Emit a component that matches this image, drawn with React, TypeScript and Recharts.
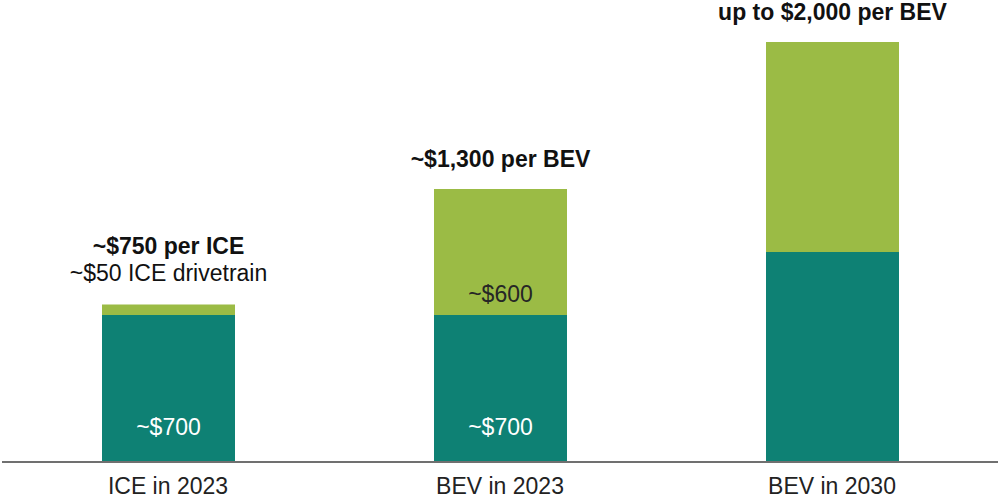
import { BarChart, Bar, XAxis, YAxis, LabelList } from 'recharts';

const categories = ['ICE in 2023', 'BEV in 2023', 'BEV in 2030'];
const baseValues = [700, 700, 1000];
const addedValues = [50, 600, 1000];
const baseLabels = ['~$700', '~$700', ''];
const addedLabels = ['', '~$600', ''];
const totalLabels = ['~$750 per ICE', '~$1,300 per BEV', 'up to $2,000 per BEV'];
const noteLabels = ['~$50 ICE drivetrain', '', ''];

const data = categories.map((name, i) => ({
  name,
  base: baseValues[i],
  added: addedValues[i],
}));

const FONT = '"Liberation Sans", Arial, sans-serif';

const BaseLabel = (props: any) => {
  const { x, y, width, height, index } = props;
  const text = baseLabels[index];
  if (!text) return null;
  return (
    <text x={x + width / 2} y={y + height - 35} textAnchor="middle" dominantBaseline="central"
      fill="#ffffff" fontSize={23} fontFamily={FONT}>
      {text}
    </text>
  );
};

const AddedLabel = (props: any) => {
  const { x, y, width, height, index } = props;
  const text = addedLabels[index];
  if (!text) return null;
  return (
    <text x={x + width / 2} y={y + height - 21} textAnchor="middle" dominantBaseline="central"
      fill="#262626" fontSize={23} fontFamily={FONT}>
      {text}
    </text>
  );
};

const TotalLabel = (props: any) => {
  const { x, y, width, index } = props;
  const cx = x + width / 2;
  const note = noteLabels[index];
  return (
    <g>
      <text x={cx} y={note ? y - 59 : y - 30} textAnchor="middle" dominantBaseline="central"
        fill="#111111" fontSize={23} fontWeight="bold" fontFamily={FONT}>
        {totalLabels[index]}
      </text>
      {note && (
        <text x={cx} y={y - 32} textAnchor="middle" dominantBaseline="central"
          fill="#111111" fontSize={23} fontFamily={FONT}>
          {note}
        </text>
      )}
    </g>
  );
};

export default function App() {
  return (
    <div style={{ position: 'absolute', left: 0, top: 0, background: '#fff' }}>
      <BarChart width={1000} height={503} data={data}
        margin={{ top: 42, right: 2, bottom: 0, left: 2 }}>
        <XAxis dataKey="name" height={41} tickLine={false} tickSize={0} tickMargin={16}
          axisLine={{ stroke: '#707070', strokeWidth: 2 }}
          tick={{ fill: '#222222', fontSize: 23, fontFamily: FONT }} />
        <YAxis hide domain={[0, 2000]} />
        <Bar dataKey="base" stackId="a" fill="#0e8174" barSize={133} isAnimationActive={false}>
          <LabelList dataKey="base" content={BaseLabel} />
        </Bar>
        <Bar dataKey="added" stackId="a" fill="#9bbb45" barSize={133} isAnimationActive={false}>
          <LabelList dataKey="added" content={AddedLabel} />
          <LabelList dataKey="added" content={TotalLabel} />
        </Bar>
      </BarChart>
    </div>
  );
}
